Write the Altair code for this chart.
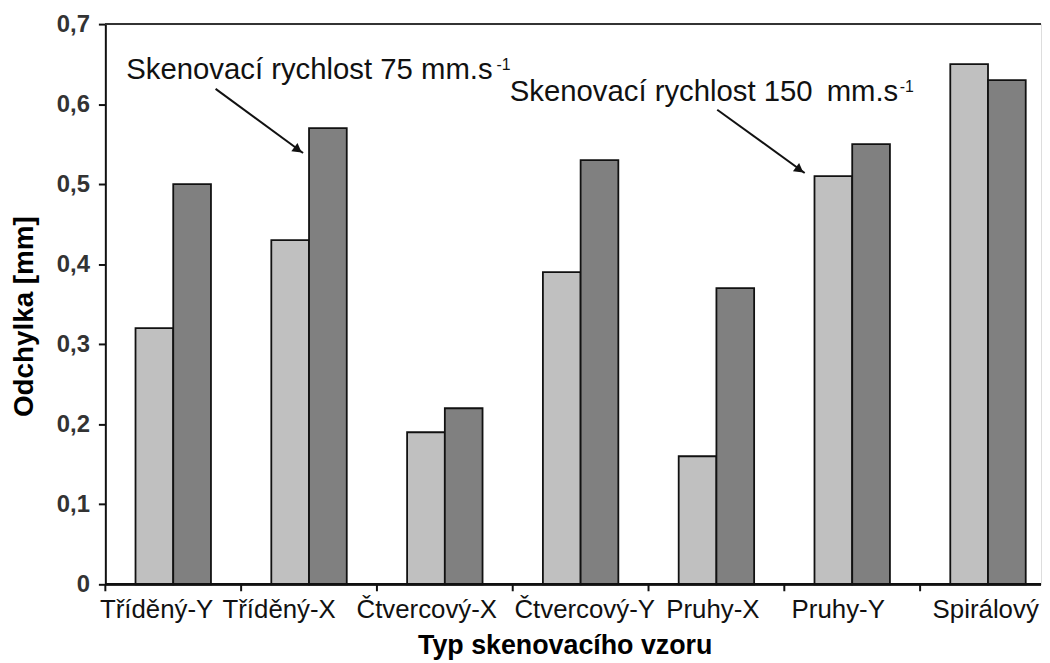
import altair as alt
import pandas as pd

# ---- data ----
categories = ["Tříděný-Y", "Tříděný-X", "Čtvercový-X", "Čtvercový-Y",
              "Pruhy-X", "Pruhy-Y", "Spirálový"]
speed_75 = [0.32, 0.43, 0.19, 0.39, 0.16, 0.51, 0.65]
speed_150 = [0.50, 0.57, 0.22, 0.53, 0.37, 0.55, 0.63]
series_names = ["75", "150"]
series_colors = ["#c0c0c0", "#808080"]
y_ticks = [0, 0.1, 0.2, 0.3, 0.4, 0.5, 0.6, 0.7]
x_title = "Typ skenovacího vzoru"
y_title = "Odchylka [mm]"

# ---- layout of texts (fraction of the category band) ----
label_pos = [0.377, 0.280, 0.367, 0.530, 0.474, 0.397, 0.483]

# annotations: x = category + fraction of its band, y in data units
ann_text = ["Skenovací rychlost 75 mm.s", "Skenovací rychlost 150\u2009 mm.s"]
ann_cat = ["Tříděný-Y", "Čtvercový-X"]
ann_pos = [0.154, 0.978]
ann_y = [0.632, 0.6044]
sup_text = ["-1", "-1"]
sup_cat = ["Čtvercový-X", "Pruhy-Y"]
sup_pos = [0.880, 0.850]
sup_y = [0.6429, 0.6156]
arrow_cat = ["Tříděný-Y", "Pruhy-X"]
arrow_pos = [0.812, 0.506]
arrow_y = [0.619, 0.593]
arrow_cat2 = ["Tříděný-X", "Pruhy-Y"]
arrow_pos2 = [0.456, 0.150]
arrow_y2 = [0.539, 0.514]
head_pos = [0.419, 0.113]
head_y = [0.543, 0.518]

FONT = "Liberation Sans, Arial, sans-serif"
W = 942
H = 564
RANGE_W = 957

rows = []
for c, a, b in zip(categories, speed_75, speed_150):
    rows.append({"cat": c, "series": series_names[0], "value": a})
    rows.append({"cat": c, "series": series_names[1], "value": b})
bars_df = pd.DataFrame(rows)
cats_df = pd.DataFrame({"cat": categories})

x_scale = alt.Scale(domain=categories, range=[0, RANGE_W], paddingInner=0, paddingOuter=0)
y_scale = alt.Scale(domain=[0, 0.7], nice=False)


def xcat(field, pos):
    return alt.X(field, type="nominal", scale=x_scale, sort=categories,
                 bandPosition=pos, axis=None)


bars = alt.Chart(bars_df).mark_bar(stroke="#111111", strokeWidth=1.8).encode(
    x=alt.X("cat:N", scale=x_scale, sort=categories, axis=None),
    xOffset=alt.XOffset("series:N", sort=series_names,
                        scale=alt.Scale(paddingOuter=0.8, paddingInner=0)),
    y=alt.Y("value:Q", scale=y_scale,
            axis=alt.Axis(orient="left", title=y_title, values=y_ticks, grid=False,
                          labelExpr="datum.value == 0 ? '0' : replace(format(datum.value, '.1f'), '.', ',')",
                          tickSize=7, tickColor="#111111", tickWidth=2,
                          domainColor="#111111", domainWidth=2,
                          labelFont=FONT, labelFontSize=24, labelFontWeight="bold",
                          labelColor="#333333", labelPadding=9,
                          titleFont=FONT, titleFontSize=28, titleFontWeight="bold",
                          titleColor="#000000", titleX=-73, titleY=294,
                          titleAngle=270, titleBaseline="alphabetic", titleAlign="center")),
    color=alt.Color("series:N", scale=alt.Scale(domain=series_names, range=series_colors),
                    legend=None),
)

# category tick marks at band boundaries
x_ticks = alt.Chart(cats_df).mark_rule(color="#111111", strokeWidth=2).encode(
    x=xcat("cat", 0),
    y=alt.value(H),
    y2=alt.value(H + 7),
)

x_title_mark = alt.Chart(pd.DataFrame({"t": [x_title]})).mark_text(
    baseline="alphabetic", align="center", font=FONT, fontSize=27,
    fontWeight="bold", color="#000000"
).encode(
    x=alt.value(463),
    y=alt.value(H + 70),
    text="t:N",
)

bottom_line = alt.Chart(cats_df).mark_rule(color="#111111", strokeWidth=2).encode(
    y=alt.datum(0, scale=y_scale),
)

top_frame = alt.Chart(cats_df).mark_rule(color="#333333", strokeWidth=2).encode(
    y=alt.datum(0.7, scale=y_scale),
)

layers = [bars, x_ticks, x_title_mark, bottom_line, top_frame]

# category labels
for c, p in zip(categories, label_pos):
    layers.append(
        alt.Chart(pd.DataFrame({"cat": [c]})).mark_text(
            baseline="alphabetic", align="center", font=FONT, fontSize=26, color="#111111"
        ).encode(
            x=xcat("cat", p),
            y=alt.value(H + 34),
            text="cat:N",
        )
    )

for t, c, p, yv in zip(ann_text, ann_cat, ann_pos, ann_y):
    df = pd.DataFrame({"text": [t], "cat": [c], "y": [yv]})
    layers.append(
        alt.Chart(df).mark_text(align="left", baseline="alphabetic", font=FONT,
                                fontSize=29.5, color="#111111").encode(
            x=xcat("cat", p),
            y=alt.Y("y:Q", scale=y_scale),
            text="text:N",
        )
    )

for t, c, p, yv in zip(sup_text, sup_cat, sup_pos, sup_y):
    df = pd.DataFrame({"text": [t], "cat": [c], "y": [yv]})
    layers.append(
        alt.Chart(df).mark_text(align="left", baseline="alphabetic", font=FONT,
                                fontSize=16, color="#111111").encode(
            x=xcat("cat", p),
            y=alt.Y("y:Q", scale=y_scale),
            text="text:N",
        )
    )

for c1, p1, y1, c2, p2, y2, hp, hy in zip(arrow_cat, arrow_pos, arrow_y, arrow_cat2,
                                          arrow_pos2, arrow_y2, head_pos, head_y):
    df = pd.DataFrame({"c1": [c1], "y1": [y1], "c2": [c2], "y2": [y2], "hy": [hy]})
    layers.append(
        alt.Chart(df).mark_rule(color="#111111", strokeWidth=2).encode(
            x=xcat("c1", p1),
            x2=alt.X2("c2:N", bandPosition=p2),
            y=alt.Y("y1:Q", scale=y_scale),
            y2="y2:Q",
        )
    )
    layers.append(
        alt.Chart(df).mark_point(shape="triangle-up", filled=True, size=110,
                                 color="#111111", opacity=1, angle=126.5).encode(
            x=xcat("c2", hp),
            y=alt.Y("hy:Q", scale=y_scale),
        )
    )

chart = alt.layer(*layers).properties(
    width=W, height=H,
    padding={"left": 3, "top": 2, "right": 0, "bottom": 0},
).configure_view(stroke=None).configure(background="white")

chart.save("out.html", embed_options={"renderer": "svg", "actions": False})
